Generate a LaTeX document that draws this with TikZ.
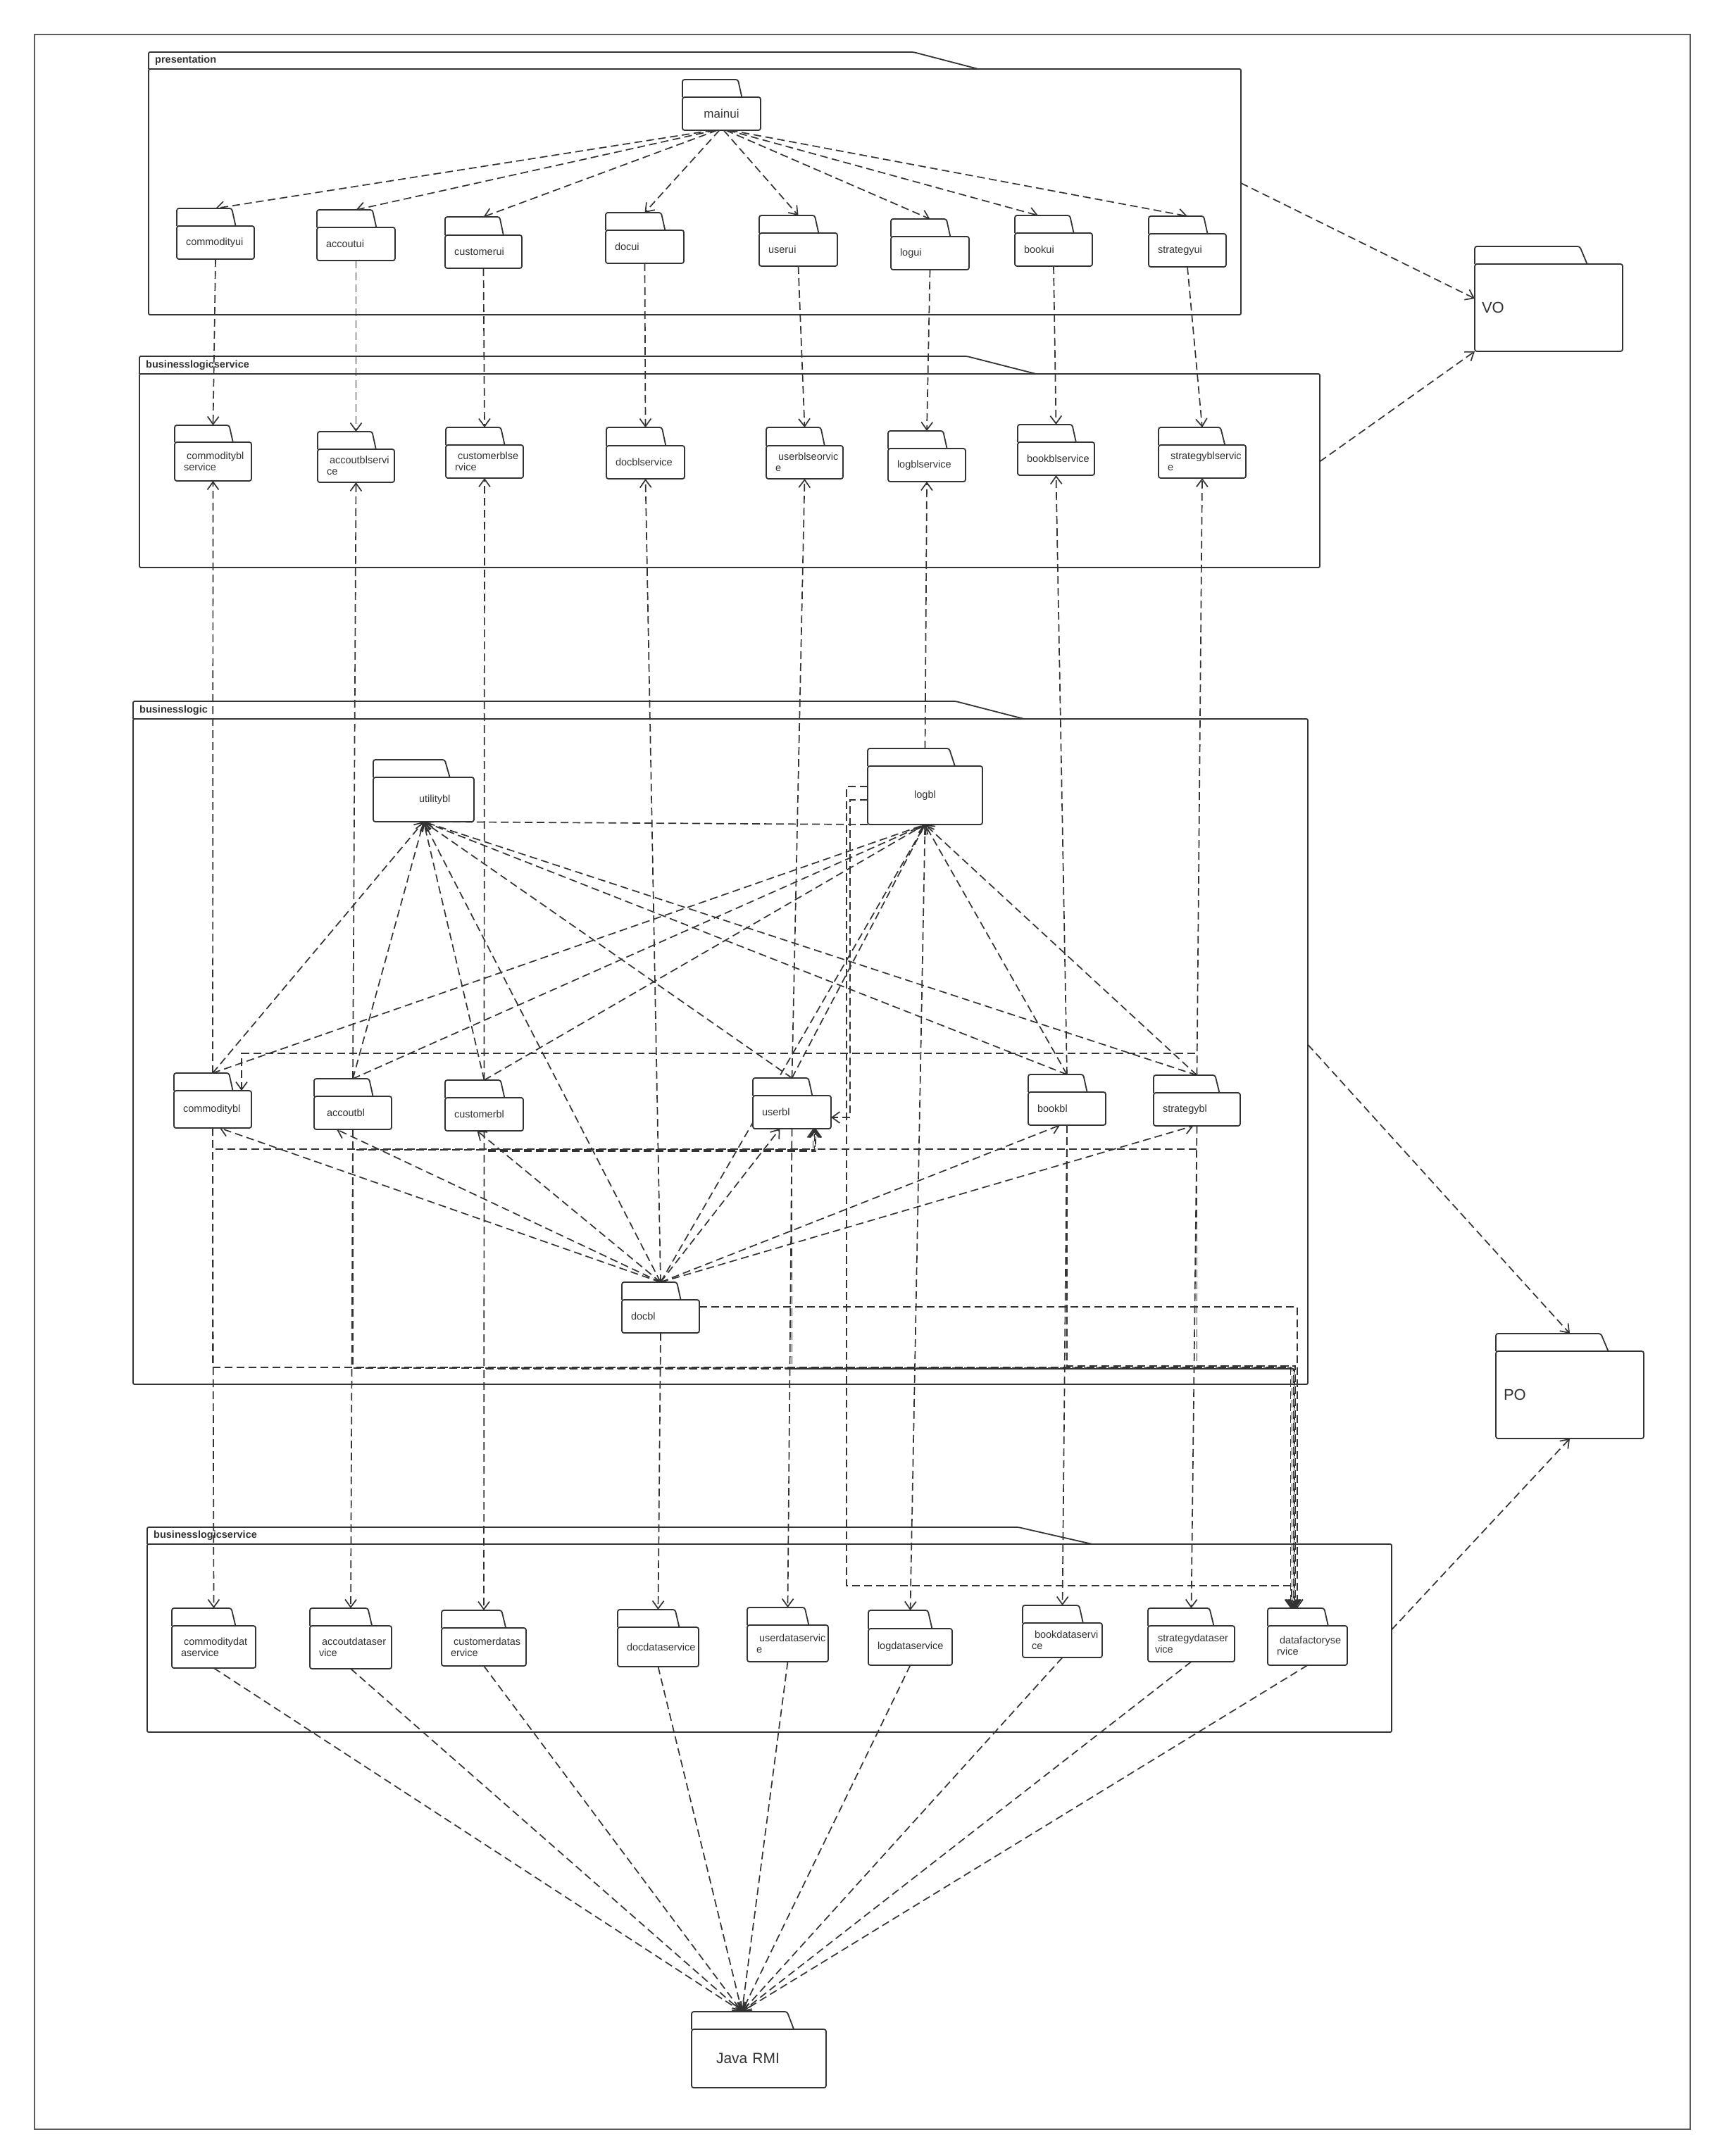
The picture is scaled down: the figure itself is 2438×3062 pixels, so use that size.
\documentclass[tikz,border=0pt]{standalone}
\usepackage{fontspec}
\setmainfont{Liberation Sans}
\usetikzlibrary{arrows.meta,calc}
\definecolor{ink}{HTML}{333333}
\pgfdeclarelayer{bg}
\pgfsetlayers{bg,main}
\lefthyphenmin=62
\righthyphenmin=62
\hyphenpenalty=10000
\exhyphenpenalty=10000
\hbadness=10000
\hfuzz=200pt
\newcommand\pkgfont{\fontsize{14.5}{16}\selectfont}
\tikzset{
  pkgline/.style={draw=ink, line width=1.8pt, fill=white, rounded corners=3pt},
  pkgbody/.style={draw=ink, line width=1.8pt, fill=white, rounded corners=3pt,
    inner xsep=13pt, inner ysep=0pt, outer sep=0pt, align=left, font=\pkgfont, text=ink},
  frmline/.style={draw=ink, line width=1.8pt, rounded corners=2pt},
  frmbody/.style={draw=ink, line width=1.8pt, rounded corners=2pt, inner sep=0pt, outer sep=0pt},
  frmlabel/.style={font=\bfseries\pkgfont, text=ink, inner sep=0pt},
  dep/.style={draw=ink, line width=1.7pt, dash pattern=on 11pt off 6pt,
    -{Straight Barb[length=11pt,width=16pt]}},
}
% #1 opts, #2 name, #3 left, #4 tabtop, #5 bodytop, #6 right, #7 bottom, #8 label
\newcommand\pkg[8][]{%
  \pgfmathsetmacro\pkgW{#6-#3}%
  \pgfmathsetmacro\pkgH{#7-#5}%
  \pgfmathsetmacro\pkgTW{#6-#3-26}%
  \pgfmathsetmacro\pkgA{#3+0.71*(#6-#3)}%
  \pgfmathsetmacro\pkgB{#3+0.76*(#6-#3)}%
  \pgfmathsetmacro\pkgC{(#3+#6)/2}%
  \filldraw[pkgline] (#3,#5) -- (#3,#4) -- (\pkgA,#4) -- (\pkgB,#5);
  \node[pkgbody, minimum width=\pkgW pt, minimum height=\pkgH pt, text width=\pkgTW pt, anchor=north west, #1] (#2) at (#3,#5) {#8};
  \coordinate (#2-t) at (\pkgC,#4);
}
% #1 name #2 left #3 tabtop #4 maintop #5 slantstart #6 slantend #7 right #8 bottom #9 label
\newcommand\frm[9]{%
  \pgfmathsetmacro\frmW{#7-#2}%
  \pgfmathsetmacro\frmH{#8-#4}%
  \pgfmathsetmacro\frmY{(#3+#4)/2}%
  \pgfmathsetmacro\frmX{#2+9}%
  \draw[frmline] (#2,#4) -- (#2,#3) -- (#5,#3) -- (#6,#4);
  \node[frmbody, minimum width=\frmW pt, minimum height=\frmH pt, anchor=north west] (#1) at (#2,#4) {};
  \node[frmlabel, anchor=west] (#1-label) at (\frmX,\frmY) {#9};
}
\begin{document}
\begin{tikzpicture}[x=1pt,y=-1pt]
\useasboundingbox (0,0) rectangle (2438,3062);
\draw[line width=1.3pt, draw=ink!80] (49,49) rectangle (2400,3024);

% frames
\frm{presentation}{211}{74}{98}{1297}{1389}{1762}{447}{presentation}
\frm{blsvc}{198}{506}{531}{1373}{1471}{1874}{806}{businesslogicservice}
\frm{blframe}{189}{996}{1021}{1357}{1454}{1857}{1966}{businesslogic}
\frm{datasvc}{209}{2169}{2193}{1446}{1551}{1976}{2460}{businesslogicservice}

% presentation
\pkg[align=center, font=\fontsize{17}{20}\selectfont]{mainui}{969}{113}{138}{1080}{185}{mainui}
\pkg{commodityui}{251}{296}{321}{361}{368}{commodityui}
\pkg{accoutui}{450}{298}{323}{561}{370}{accoutui}
\pkg{customerui}{632}{308}{334}{741}{381}{customerui}
\pkg{docui}{860}{302}{327}{971}{374}{docui}
\pkg{userui}{1078}{306}{331}{1189}{378}{userui}
\pkg{logui}{1265}{311}{336}{1376}{383}{logui}
\pkg{bookui}{1441}{306}{331}{1551}{378}{bookui}
\pkg{strategyui}{1631}{307}{332}{1741}{379}{strategyui}

% business logic service
\pkg{commodityblservice}{248}{604}{628}{357}{683}{\hspace*{4pt}commoditybl\\service}
\pkg{accoutblservice}{451}{613}{638}{560}{685}{\hspace*{4pt}accoutblservi\\ce}
\pkg{customerblservice}{633}{607}{632}{743}{679}{\hspace*{4pt}customerblse\\rvice}
\pkg{docblservice}{861}{607}{633}{972}{680}{docblservice}
\pkg{userblservice}{1088}{607}{633}{1197}{680}{\hspace*{4pt}userblseorvic\\e}
\pkg{logblservice}{1261}{612}{637}{1371}{684}{logblservice}
\pkg{bookblservice}{1445}{603}{628}{1554}{675}{bookblservice}
\pkg{strategyblservice}{1645}{607}{632}{1769}{679}{\hspace*{4pt}strategyblservic\\e}

% business logic
\pkg[inner xsep=65pt, text width=13pt]{utilitybl}{530}{1079}{1104}{673}{1167}{utilitybl}
\pkg[align=center]{logbl}{1232}{1063}{1088}{1395}{1171}{logbl}
\pkg{commoditybl}{247}{1524}{1549}{357}{1602}{commoditybl}
\pkg{accoutbl}{446}{1532}{1557}{556}{1604}{\hspace*{5pt}accoutbl}
\pkg{customerbl}{632}{1534}{1559}{743}{1606}{customerbl}
\pkg{userbl}{1069}{1531}{1556}{1180}{1603}{userbl}
\pkg{bookbl}{1460}{1526}{1551}{1570}{1598}{bookbl}
\pkg{strategybl}{1638}{1527}{1552}{1761}{1599}{strategybl}
\pkg{docbl}{883}{1821}{1846}{993}{1893}{docbl}

% data services
\pkg{commoditydataservice}{244}{2284}{2309}{363}{2369}{\hspace*{4pt}commoditydat\\aservice}
\pkg{accoutdataservice}{440}{2284}{2309}{556}{2370}{\hspace*{4pt}accoutdataser\\vice}
\pkg{customerdataservice}{627}{2287}{2312}{747}{2366}{\hspace*{4pt}customerdatas\\ervice}
\pkg{docdataservice}{877}{2286}{2311}{992}{2367}{docdataservice}
\pkg{userdataservice}{1061}{2283}{2308}{1176}{2360}{\hspace*{4pt}userdataservic\\e}
\pkg{logdataservice}{1233}{2287}{2313}{1352}{2365}{logdataservice}
\pkg{bookdataservice}{1452}{2280}{2305}{1565}{2354}{\hspace*{4pt}bookdataservi\\ce}
\pkg[inner xsep=10pt, text width=103pt]{strategydataservice}{1630}{2284}{2309}{1753}{2360}{\hspace*{4pt}strategydataser\\vice}
\pkg{datafactoryservice}{1800}{2284}{2309}{1913}{2365}{\hspace*{4pt}datafactoryse\\rvice}

% VO / PO / Java RMI
\pkg[inner xsep=10pt, text width=190pt, font=\fontsize{22}{26}\selectfont]{VO}{2094}{350}{375}{2304}{499}{VO}
\pkg[inner xsep=11pt, text width=188pt, font=\fontsize{22}{26}\selectfont]{PO}{2124}{1894}{1919}{2334}{2043}{PO}
\pkg[inner xsep=35pt, text width=121pt, font=\fontsize{21}{25}\selectfont]{rmi}{982}{2857}{2882}{1173}{2965}{Java RMI}
\coordinate (rmihub) at ([xshift=-24pt]rmi-t);

\begin{pgfonlayer}{bg}
% mainui -> ui
\draw[dep] ([xshift=-12pt]mainui.south) -- (commodityui-t);
\draw[dep] ([xshift=-9pt]mainui.south) -- (accoutui-t);
\draw[dep] ([xshift=-6pt]mainui.south) -- (customerui-t);
\draw[dep] ([xshift=-3pt]mainui.south) -- (docui-t);
\draw[dep] ([xshift=3pt]mainui.south) -- (userui-t);
\draw[dep] ([xshift=6pt]mainui.south) -- (logui-t);
\draw[dep] ([xshift=9pt]mainui.south) -- ([xshift=-22pt]bookui-t);
\draw[dep] ([xshift=12pt]mainui.south) -- (strategyui-t);
% ui -> blservice, bl -> blservice, bl -> dataservice, dataservice -> Java RMI
\foreach \m in {commodity,accout,customer,doc,user,log,book,strategy}{
  \draw[dep] (\m ui.south) -- (\m blservice-t);
  \draw[dep] (\m bl-t) -- (\m blservice.south);
  \draw[dep] (\m bl.south) -- (\m dataservice-t);
  \draw[dep] (\m dataservice.south) -- (rmihub);
}
\draw[dep] (datafactoryservice.south) -- (rmihub);
% to utilitybl and logbl
\foreach \m in {commodity,accout,customer,user,book,strategy}{
  \draw[dep] (\m bl-t) -- (utilitybl.south);
  \draw[dep] (\m bl-t) -- (logbl.south);
}
\draw[dep] (docbl-t) -- (utilitybl.south);
\draw[dep] (docbl-t) -- (logbl.south);
\draw[dep] (logbl.south west) -- (utilitybl.south);
% docbl -> bl
\draw[dep] (docbl-t) -- ([xshift=10pt]commoditybl.south);
\draw[dep] (docbl-t) -- ([xshift=-23pt]accoutbl.south);
\draw[dep] (docbl-t) -- ([xshift=-10pt]customerbl.south);
\draw[dep] (docbl-t) -- ([xshift=-17pt]userbl.south);
\draw[dep] (docbl-t) -- ([xshift=-10pt]bookbl.south);
\draw[dep] (docbl-t) -- ([xshift=-5pt]strategybl.south);
% strategybl -> commoditybl
\draw[dep] (strategybl-t) -- ++(0,-31) -| ([xshift=41pt]commoditybl.north);
% routed to userbl
\draw[dep] (commoditybl.south) -- ++(0,30) -| ([xshift=30pt]userbl.south);
\draw[dep] (accoutbl.south) -- ++(0,29) -| ([xshift=32pt]userbl.south);
\draw[dep] (customerbl.south) -- ++(0,29) -| ([xshift=34pt]userbl.south);
\draw[dep] (strategybl.south) -- ++(0,33) -| ([xshift=33pt]userbl.south);
% logbl -> userbl
\draw[dep] ([yshift=-6.5pt]logbl.west) -- ++(-25,0) |- ([yshift=-7.5pt]userbl.east);
% routed to datafactoryservice
\draw[dep] (commoditybl.south) -- ++(0,340) -| ([xshift=-24pt]datafactoryservice-t);
\draw[dep] (accoutbl.south) -- ++(0,339) -| ([xshift=-22pt]datafactoryservice-t);
\draw[dep] (customerbl.south) -- ++(0,338) -| ([xshift=-20pt]datafactoryservice-t);
\draw[dep] (userbl.south) -- ++(0,341) -| ([xshift=-19pt]datafactoryservice-t);
\draw[dep] (bookbl.south) -- ++(0,342) -| ([xshift=-18pt]datafactoryservice-t);
\draw[dep] (strategybl.south) -- ++(0,341) -| ([xshift=-17pt]datafactoryservice-t);
\draw[dep] ([yshift=13.5pt]docbl.east) -| ([xshift=-14.5pt]datafactoryservice-t);
\draw[dep] ([yshift=12.5pt]logbl.west) -- ++(-30,0) -- ++(0,1135) -| ([xshift=-22.5pt]datafactoryservice-t);
% frames -> VO / PO
\draw[dep] ([yshift=12.5pt]presentation.east) -- ([yshift=13pt]VO.west);
\draw[dep] ([yshift=13pt]blsvc.east) -- (VO.south west);
\draw[dep] ([yshift=10pt]blframe.east) -- (PO-t);
\draw[dep] ([yshift=12pt]datasvc.east) -- (PO.south);
\end{pgfonlayer}
\end{tikzpicture}
\end{document}
